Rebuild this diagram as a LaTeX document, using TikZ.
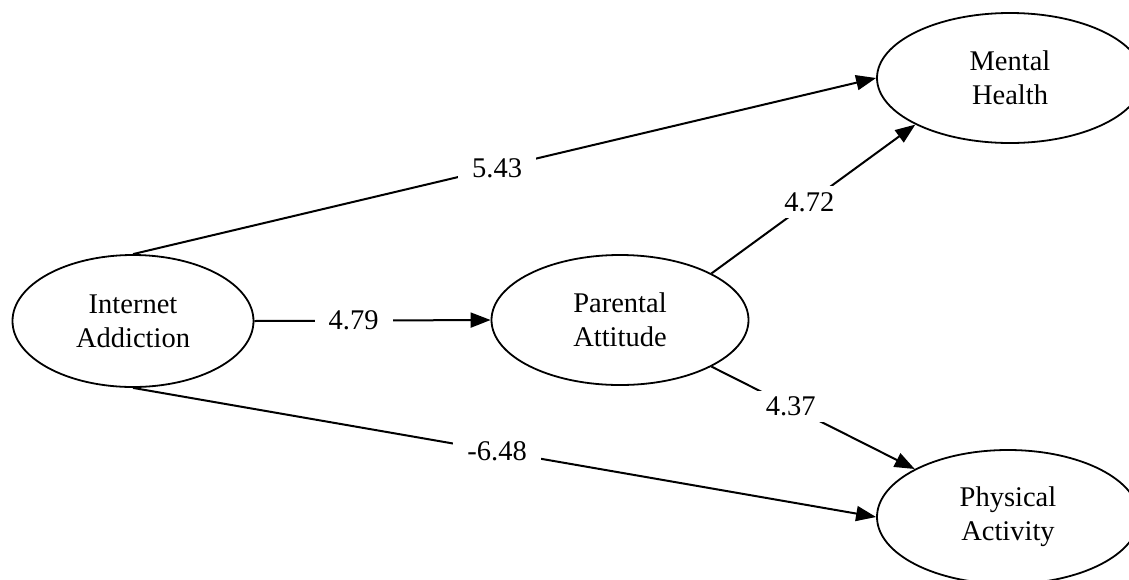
\documentclass[tikz,border=0pt]{standalone}
\usepackage{fontspec}
\setmainfont{Liberation Serif}
\usetikzlibrary{arrows.meta,shapes.geometric}

\begin{document}
\begin{tikzpicture}[x=1pt,y=-1pt,
  >={Triangle[length=20pt,width=15pt]},
  latent/.style={draw,ellipse,line width=1.8pt,inner sep=0pt,align=center,
                 font=\fontsize{28.5}{34}\selectfont},
  coef/.style={fill=white,inner xsep=14pt,inner ysep=6pt,
               font=\fontsize{28.5}{32}\selectfont},
  path/.style={->,line width=2pt}
]
\useasboundingbox[fill=white] (0,0) rectangle (1129,579);

\node[latent,minimum width=241pt,minimum height=132pt] (ia) at (133,321)  {Internet\\Addiction};
\node[latent,minimum width=257pt,minimum height=130pt] (pa) at (620,320)  {Parental\\Attitude};
\node[latent,minimum width=266pt,minimum height=130pt] (mh) at (1010,78)  {Mental\\Health};
\node[latent,minimum width=262pt,minimum height=134pt] (pha) at (1008,517) {Physical\\Activity};

\draw[path] (ia.north) -- node[coef,pos=0.49] {5.43} (mh.west);
\draw[path] (ia.east) -- node[coef,pos=0.42] {4.79} (pa.west);
\draw[path] (ia.south) -- node[coef,pos=0.49] {-6.48} (pha.west);
\draw[path] (pa.north east) -- node[coef,pos=0.48] {4.72} (mh.south west);
\draw[path] (pa.south east) -- node[coef,pos=0.39] {4.37} (pha.north west);
\end{tikzpicture}
\end{document}
